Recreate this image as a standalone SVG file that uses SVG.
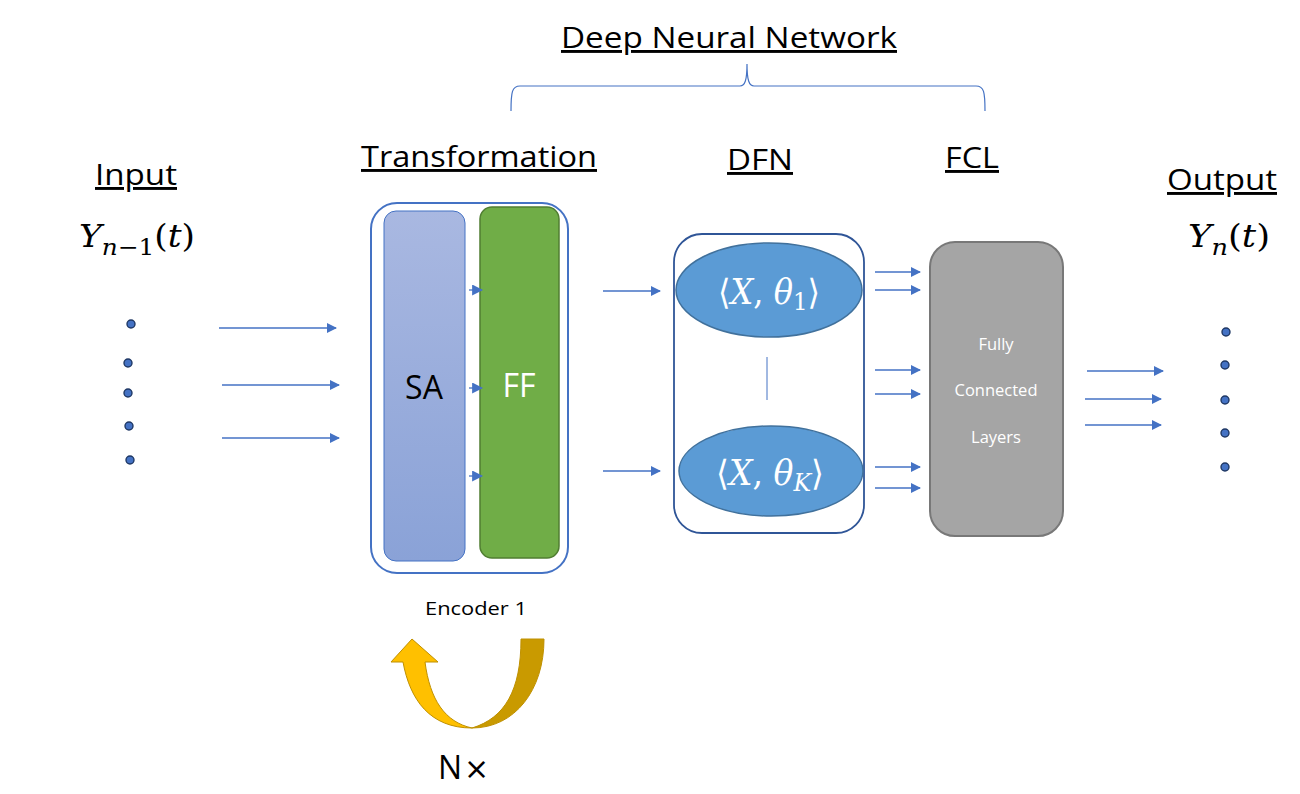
<svg xmlns="http://www.w3.org/2000/svg" width="1300" height="794" viewBox="0 0 1300 794">
<style>
.h{font-family:"Open Sans","Liberation Sans",sans-serif;font-size:29px;fill:#000;text-decoration:underline}
.m{font-family:"DejaVu Serif","Liberation Serif",serif;fill:#000}
.i{font-style:italic}
.arr{stroke:#4472C4;stroke-width:1.3;fill:none;marker-end:url(#ah)}
.dot{fill:#4472C4;stroke:#1F3864;stroke-width:1.4}
.w{fill:#fff}
.s{font-family:"Open Sans","Liberation Sans",sans-serif}
</style>
<defs>
<marker id="ah" viewBox="0 0 10 10" refX="9" refY="5" markerWidth="10" markerHeight="10" markerUnits="userSpaceOnUse" orient="auto">
<path d="M0,0 L10,5 L0,10 Z" fill="#4472C4"/>
</marker>
<marker id="ahs" viewBox="0 0 10 10" refX="9" refY="5" markerWidth="11" markerHeight="11" markerUnits="userSpaceOnUse" orient="auto">
<path d="M0,0 L10,5 L0,10 Z" fill="#4472C4"/>
</marker>
<linearGradient id="sag" x1="0" y1="0" x2="0" y2="1">
<stop offset="0" stop-color="#A9B8E1"/>
<stop offset="1" stop-color="#8AA2D7"/>
</linearGradient>
</defs>
<rect width="1300" height="794" fill="#fff"/>

<g id="title">
<text class="h" x="729" y="48" text-anchor="middle" textLength="336" lengthAdjust="spacingAndGlyphs">Deep Neural Network</text>
<path d="M511,111 C511,92 512,86 520,86 L740,86 C745,86 747,80 747,64 C747,80 749,86 754,86 L976,86 C984,86 985,92 985,111" fill="none" stroke="#4472C4" stroke-width="1.2"/>
</g>

<g id="input">
<text class="h" x="136" y="185" text-anchor="middle" textLength="82" lengthAdjust="spacingAndGlyphs">Input</text>
<text class="m" x="79" y="247" font-size="32" textLength="116" lengthAdjust="spacingAndGlyphs"><tspan class="i">Y</tspan><tspan font-size="23" dy="8" class="i">n</tspan><tspan font-size="23">−1</tspan><tspan dy="-8">(</tspan><tspan class="i">t</tspan>)</text>
<circle class="dot" cx="131" cy="324" r="4"/>
<circle class="dot" cx="128" cy="363" r="4"/>
<circle class="dot" cx="128" cy="393" r="4"/>
<circle class="dot" cx="129" cy="426" r="4"/>
<circle class="dot" cx="130" cy="460" r="4"/>
</g>

<g id="transformation">
<text class="h" x="479" y="167" text-anchor="middle" textLength="236" lengthAdjust="spacingAndGlyphs">Transformation</text>
<rect x="371" y="203" width="197" height="370" rx="26" fill="none" stroke="#4472C4" stroke-width="2"/>
<rect id="sa" x="384" y="211" width="81" height="350" rx="12" fill="url(#sag)" stroke="#4472C4" stroke-width="1"/>
<text class="s" x="424" y="399" text-anchor="middle" font-size="32" fill="#000">SA</text>
<rect id="ff" x="480" y="207" width="79" height="351" rx="12" fill="#70AD47" stroke="#507E32" stroke-width="1.5"/>
<text class="s" x="519" y="397" text-anchor="middle" font-size="32" fill="#fff">FF</text>
<text class="s" x="476" y="615" text-anchor="middle" font-size="19" fill="#000" textLength="102" lengthAdjust="spacingAndGlyphs">Encoder 1</text>
</g>

<g id="loop">
<path d="M391,662 L412,639 L438,662 L425,662 C430,700 445,722 472,728 C430,728 410,700 403,662 Z" fill="#FFC000" stroke="#BF9000" stroke-width="1"/>
<path d="M521,639 L544,639 C544,690 515,728 472,728 C505,718 521,690 521,639 Z" fill="#C99A00" stroke="#BF9000" stroke-width="1"/>
<text class="s" x="438" y="779" font-size="32" fill="#000">N<tspan font-family="DejaVu Sans,sans-serif" font-size="30" dx="2">×</tspan></text>
</g>

<g id="dfn">
<text class="h" x="760" y="170" text-anchor="middle" textLength="66" lengthAdjust="spacingAndGlyphs">DFN</text>
<rect x="674" y="234" width="190" height="299" rx="28" fill="none" stroke="#2F5597" stroke-width="1.8"/>
<ellipse cx="769" cy="290" rx="93" ry="47" fill="#5B9BD5" stroke="#41719C" stroke-width="1.5"/>
<text class="m w" x="718" y="304" font-size="35" textLength="102" lengthAdjust="spacingAndGlyphs">⟨<tspan class="i">X</tspan>, <tspan class="i">θ</tspan><tspan font-size="25" dy="6">1</tspan><tspan dy="-6">⟩</tspan></text>
<line x1="767" y1="357" x2="767" y2="400" stroke="#4472C4" stroke-width="1"/>
<ellipse cx="771" cy="471" rx="92" ry="45" fill="#5B9BD5" stroke="#41719C" stroke-width="1.5"/>
<text class="m w" x="716" y="485" font-size="35" textLength="108" lengthAdjust="spacingAndGlyphs">⟨<tspan class="i">X</tspan>, <tspan class="i">θ</tspan><tspan class="i" font-size="25" dy="6">K</tspan><tspan dy="-6">⟩</tspan></text>
</g>

<g id="fcl">
<text class="h" x="972" y="168" text-anchor="middle" textLength="54" lengthAdjust="spacingAndGlyphs">FCL</text>
<rect x="930" y="242" width="133" height="294" rx="25" fill="#A5A5A5" stroke="#787878" stroke-width="2"/>
<g class="s" font-size="16.5" fill="#fff" text-anchor="middle">
<text x="996" y="350">Fully</text>
<text x="996" y="396">Connected</text>
<text x="996" y="443">Layers</text>
</g>
</g>

<g id="output">
<text class="h" x="1222" y="190" text-anchor="middle" textLength="110" lengthAdjust="spacingAndGlyphs">Output</text>
<text class="m" x="1188" y="247" font-size="32" textLength="82" lengthAdjust="spacingAndGlyphs"><tspan class="i">Y</tspan><tspan font-size="23" dy="8" class="i">n</tspan><tspan dy="-8">(</tspan><tspan class="i">t</tspan>)</text>
<circle class="dot" cx="1226" cy="332" r="4"/>
<circle class="dot" cx="1225" cy="365" r="4"/>
<circle class="dot" cx="1225" cy="400" r="4"/>
<circle class="dot" cx="1225" cy="433" r="4"/>
<circle class="dot" cx="1225" cy="467" r="4"/>
</g>

<g id="connectors">
<line class="arr" x1="219" y1="328" x2="336" y2="328"/>
<line class="arr" x1="222" y1="385" x2="339" y2="385"/>
<line class="arr" x1="222" y1="438" x2="339" y2="438"/>
<line class="arr" x1="469" y1="290" x2="482" y2="290" style="marker-end:url(#ahs)"/>
<line class="arr" x1="469" y1="388" x2="482" y2="388" style="marker-end:url(#ahs)"/>
<line class="arr" x1="469" y1="476" x2="482" y2="476" style="marker-end:url(#ahs)"/>
<line class="arr" x1="603" y1="291" x2="660" y2="291"/>
<line class="arr" x1="603" y1="471" x2="660" y2="471"/>
<line class="arr" x1="875" y1="272" x2="920" y2="272"/>
<line class="arr" x1="875" y1="290" x2="920" y2="290"/>
<line class="arr" x1="875" y1="370" x2="920" y2="370"/>
<line class="arr" x1="875" y1="394" x2="920" y2="394"/>
<line class="arr" x1="875" y1="467" x2="920" y2="467"/>
<line class="arr" x1="875" y1="488" x2="920" y2="488"/>
<line class="arr" x1="1087" y1="371" x2="1163" y2="371"/>
<line class="arr" x1="1085" y1="399" x2="1161" y2="399"/>
<line class="arr" x1="1085" y1="425" x2="1161" y2="425"/>
</g>
</svg>
